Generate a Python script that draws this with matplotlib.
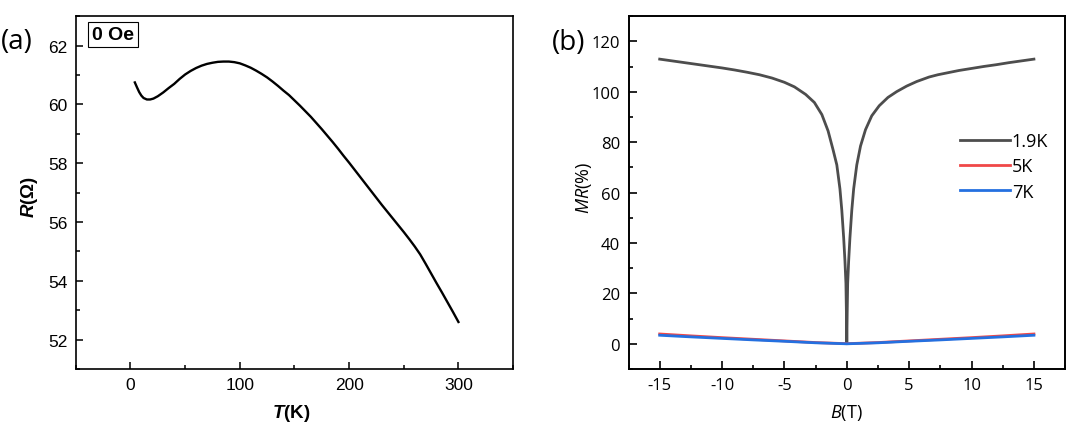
import matplotlib
matplotlib.use("Agg")
import matplotlib.pyplot as plt
from matplotlib.ticker import MultipleLocator

# ---------------- data ----------------
T_K = [4, 6, 8, 10, 12, 15, 18, 21, 25, 30, 35, 40, 45, 50, 55, 60, 65, 70,
       75, 80, 85, 90, 95, 100, 105, 110, 115, 120, 125, 130, 135, 140, 145,
       150, 155, 160, 165, 170, 175, 180, 185, 190, 195, 200, 205, 210, 215,
       220, 225, 230, 235, 240, 245, 250, 255, 260, 265, 270, 275, 280, 285,
       290, 295, 300]
R_ohm = [60.75, 60.58, 60.42, 60.30, 60.22, 60.17, 60.17, 60.20, 60.28, 60.41,
         60.56, 60.70, 60.87, 61.02, 61.14, 61.24, 61.32, 61.38, 61.42, 61.45,
         61.46, 61.46, 61.44, 61.40, 61.33, 61.25, 61.15, 61.04, 60.92, 60.78,
         60.63, 60.47, 60.32, 60.14, 59.96, 59.77, 59.58, 59.37, 59.16, 58.94,
         58.72, 58.49, 58.25, 58.02, 57.78, 57.54, 57.30, 57.06, 56.82, 56.58,
         56.35, 56.12, 55.89, 55.66, 55.42, 55.17, 54.90, 54.58, 54.25, 53.92,
         53.60, 53.27, 52.94, 52.60]

B_19K = [-15, -14, -13, -12, -11, -10, -9, -8, -7, -6, -5, -4.2, -3.3, -2.6,
         -2.0, -1.5, -1.1, -0.8, -0.55, -0.4, -0.25, -0.15, -0.07, -0.03, 0,
         0.03, 0.07, 0.15, 0.25, 0.4, 0.55, 0.8, 1.1, 1.5, 2.0, 2.6, 3.3, 4.0,
         4.8, 5.6, 6.6, 7.3, 8, 9, 10, 11, 12, 13, 14, 15]
MR_19K = [113.0, 112.3, 111.6, 110.9, 110.2, 109.5, 108.7, 107.8, 106.8, 105.5,
          103.8, 102.0, 99.0, 95.8, 91.0, 84.5, 77.0, 71.0, 61.5, 53.0, 42.0,
          33.0, 24.0, 12.0, 0.5,
          12.0, 24.0, 33.0, 42.0, 53.0, 61.5, 71.0, 78.5, 85.0, 90.5, 94.5,
          97.8, 100.1, 102.3, 104.1, 105.9, 106.8, 107.5, 108.5, 109.3, 110.1,
          110.8, 111.6, 112.3, 113.0]

B_low = [-15, -12.5, -10, -7.5, -5, -2.5, 0, 2.5, 5, 7.5, 10, 12.5, 15]
MR_5K = [3.9, 3.15, 2.45, 1.8, 1.15, 0.5, 0.05, 0.5, 1.15, 1.8, 2.45, 3.15, 3.9]
MR_7K = [3.4, 2.75, 2.15, 1.55, 1.0, 0.4, 0.0, 0.4, 1.0, 1.55, 2.15, 2.75, 3.4]

legend_labels = ["1.9K", "5K", "7K"]

# ---------------- style ----------------
plt.rcParams['axes.unicode_minus'] = False
plt.rcParams['mathtext.fontset'] = 'custom'
plt.rcParams['mathtext.bfit'] = 'Liberation Sans:italic:bold'
plt.rcParams['mathtext.it'] = 'Open Sans:italic'
plt.rcParams['mathtext.rm'] = 'Open Sans'

W, H = 1080, 427
fig = plt.figure(figsize=(10.8, 4.27), dpi=100)

def px_axes(x0, x1, y0, y1):
    return fig.add_axes([x0 / W, 1 - y1 / H, (x1 - x0) / W, (y1 - y0) / H])

# ---------------- panel (a) ----------------
ax1 = px_axes(75.8, 513.1, 17.3, 370)
ax1.plot(T_K, R_ohm, color='black', lw=1.7)
ax1.set_xlim(-50, 350)
ax1.set_ylim(51, 63)
ax1.xaxis.set_major_locator(MultipleLocator(100))
ax1.xaxis.set_minor_locator(MultipleLocator(50))
ax1.yaxis.set_major_locator(MultipleLocator(2))
ax1.yaxis.set_minor_locator(MultipleLocator(1))
for s in ax1.spines.values():
    s.set_linewidth(1.2)
ax1.tick_params(which='both', direction='in', top=False, right=False, width=1.1)
ax1.tick_params(which='major', length=5, pad=6)
ax1.tick_params(which='minor', length=3)
for lab in ax1.get_xticklabels() + ax1.get_yticklabels():
    lab.set_fontfamily('Liberation Sans')
    lab.set_fontsize(12.5)
ax1.set_xlabel(r'$\mathbfit{T}$(K)', fontfamily='Liberation Sans',
               fontweight='bold', fontsize=13.5)
ax1.set_ylabel(r'$\mathbfit{R}$(Ω)', fontfamily='Liberation Sans',
               fontweight='bold', fontsize=13.5)
ax1.xaxis.set_label_coords(0.492, -0.094)
ax1.yaxis.set_label_coords(-0.083, 0.49)
ax1.text(0.037, 0.972, '0 Oe', transform=ax1.transAxes, ha='left', va='top',
         fontfamily='Liberation Sans', fontweight='bold', fontsize=14,
         bbox=dict(boxstyle='square,pad=0.2', fc='white', ec='black', lw=0.8))
fig.text(0.5 / W, 1 - 42 / H, '(a)', fontfamily='Open Sans', fontsize=20,
         ha='left', va='center')

# ---------------- panel (b) ----------------
ax2 = px_axes(628.5, 1065.1, 17.3, 370)
l1, = ax2.plot(B_19K, MR_19K, color='#4d4d4d', lw=2.0, label=legend_labels[0])
l2, = ax2.plot(B_low, MR_5K, color='#f04848', lw=2.0, label=legend_labels[1])
l3, = ax2.plot(B_low, MR_7K, color='#2470e0', lw=2.0, label=legend_labels[2])
ax2.set_xlim(-17.5, 17.5)
ax2.set_ylim(-10, 130)
ax2.xaxis.set_major_locator(MultipleLocator(5))
ax2.xaxis.set_minor_locator(MultipleLocator(2.5))
ax2.yaxis.set_major_locator(MultipleLocator(20))
ax2.yaxis.set_minor_locator(MultipleLocator(10))
for s in ax2.spines.values():
    s.set_linewidth(1.4)
ax2.tick_params(which='both', direction='in', top=False, right=False, width=1.2)
ax2.tick_params(which='major', length=6, pad=6)
ax2.tick_params(which='minor', length=3)
for lab in ax2.get_xticklabels() + ax2.get_yticklabels():
    lab.set_fontfamily('Open Sans')
    lab.set_fontsize(12)
ax2.set_xlabel(r'$\mathit{B}$(T)', fontfamily='Open Sans', fontsize=13)
ax2.set_ylabel(r'$\mathit{MR}$(%)', fontfamily='Open Sans', fontsize=13)
ax2.xaxis.set_label_coords(0.4993, -0.094)
ax2.yaxis.set_label_coords(-0.080, 0.516)
fig.text(552 / W, 1 - 43 / H, '(b)', fontfamily='Open Sans', fontsize=20,
         ha='left', va='center')

leg = ax2.legend(handles=[l1, l2, l3], loc='upper left',
                 bbox_to_anchor=(960 / W, 1 - 133 / H),
                 bbox_transform=fig.transFigure, frameon=False,
                 prop={'family': 'Open Sans', 'size': 13},
                 handlelength=2.77, handletextpad=0.1, labelspacing=0.41,
                 borderpad=0, borderaxespad=0)

fig.savefig('out.png', dpi=100)
